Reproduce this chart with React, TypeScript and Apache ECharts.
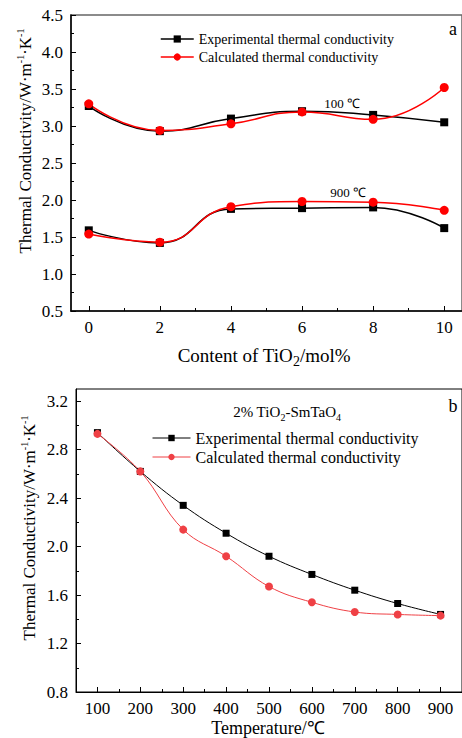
import React, { useEffect, useRef } from "react";
import * as echarts from "echarts";

const contentTicks = [0, 2, 4, 6, 8, 10];
const contentMinor = [1, 3, 5, 7, 9];
const exp100 = [3.27, 2.93, 3.1, 3.2, 3.15, 3.05];
const cal100 = [3.3, 2.94, 3.03, 3.19, 3.09, 3.52];
const exp900 = [1.59, 1.42, 1.88, 1.89, 1.9, 1.62];
const cal900 = [1.54, 1.43, 1.91, 1.98, 1.97, 1.86];

const temps = [100, 200, 300, 400, 500, 600, 700, 800, 900];
const tempMinor = [150, 250, 350, 450, 550, 650, 750, 850];
const expB = [2.94, 2.62, 2.34, 2.11, 1.92, 1.77, 1.64, 1.53, 1.44];
const calB = [2.93, 2.62, 2.14, 1.92, 1.67, 1.54, 1.46, 1.44, 1.43];
const yTicksB = [0.8, 1.2, 1.6, 2.0, 2.4, 2.8, 3.2];
const yMinorB = [1.0, 1.4, 1.8, 2.2, 2.6, 3.0];

const EXP = "Experimental thermal conductivity";
const CAL = "Calculated thermal conductivity";
const FONT = "Liberation Serif, Times New Roman, serif";
const RED_A = "#ff0000";
const RED_B = "#ef4045";

const zip = (xs: number[], ys: number[]) => xs.map((x, i) => [x, ys[i]]);

export default function App() {
  const ref = useRef<HTMLDivElement>(null);
  useEffect(() => {
    if (!ref.current) return;
    const chart = echarts.init(ref.current, undefined, { renderer: "svg" });
    const lbl = { color: "#000", fontFamily: FONT, fontSize: 17, margin: 8 };
    const majorX = (gridIndex: number, min: number, max: number, vals: number[], lw: number) => ({
      type: "value", gridIndex, min, max, position: "bottom",
      axisLine: { show: true, onZero: false, lineStyle: { color: "#000", width: lw } },
      axisTick: { show: true, inside: true, length: 5, customValues: vals, lineStyle: { color: "#000", width: 1 } },
      axisLabel: { ...lbl, customValues: vals },
      splitLine: { show: false },
    });
    const minorX = (gridIndex: number, min: number, max: number, vals: number[]) => ({
      type: "value", gridIndex, min, max, position: "bottom",
      axisLine: { show: false, onZero: false },
      axisTick: { show: true, inside: true, length: 3, customValues: vals, lineStyle: { color: "#000", width: 1 } },
      axisLabel: { show: false },
      splitLine: { show: false },
    });
    const sup = { fontSize: 10, verticalAlign: "top", lineHeight: 10, fontFamily: FONT, fill: "#000", color: "#000" };
    const nrm = (fs: number, extra = 3) => ({ fontSize: fs, lineHeight: fs + extra, fontFamily: FONT, fill: "#000", color: "#000" });
    const sub = (fs: number) => ({ fontSize: fs - 5, verticalAlign: "bottom", lineHeight: fs - 5, fontFamily: FONT, fill: "#000", color: "#000" });
    const yTitle = "{n|Thermal Conductivity/W·m}{s|-1}{n|·K}{s|-1}";
    const txt = (x: number, y: number, text: string, fontSize: number) => ({
      type: "text", x, y,
      style: { text, x: 0, y: 0, fontSize, fontFamily: FONT, fill: "#000", align: "center", verticalAlign: "middle", textAlign: "center", textVerticalAlign: "middle" },
    });

    const option: any = {
      animation: false,
      textStyle: { fontFamily: FONT },
      grid: [
        { left: 71, top: 15, width: 393, height: 296, show: true, borderColor: "#666", borderWidth: 1.5, backgroundColor: "transparent" },
        { left: 76, top: 389, width: 387, height: 303, show: true, borderColor: "#000", borderWidth: 1, backgroundColor: "transparent" },
      ],
      xAxis: [
        majorX(0, -0.5, 10.5, contentTicks, 1.5),
        minorX(0, -0.5, 10.5, contentMinor),
        majorX(1, 50, 950, temps, 1),
        minorX(1, 50, 950, tempMinor),
      ],
      yAxis: [
        {
          type: "value", gridIndex: 0, min: 0.5, max: 4.5, interval: 0.5, position: "left",
          axisLine: { show: true, onZero: false, lineStyle: { color: "#000", width: 1.5 } },
          axisTick: { show: true, inside: true, length: 5, lineStyle: { color: "#000", width: 1 } },
          minorTick: { show: true, splitNumber: 2, length: 3, lineStyle: { color: "#000", width: 1 } },
          axisLabel: { ...lbl, formatter: (v: number) => v.toFixed(1) },
          splitLine: { show: false },
        },
        {
          type: "value", gridIndex: 1, min: 0.8, max: 3.3, position: "left",
          axisLine: { show: true, onZero: false, lineStyle: { color: "#000", width: 1 } },
          axisTick: { show: true, inside: true, length: 5, customValues: yTicksB, lineStyle: { color: "#000", width: 1 } },
          axisLabel: { ...lbl, customValues: yTicksB, formatter: (v: number) => v.toFixed(1) },
          splitLine: { show: false },
        },
        {
          type: "value", gridIndex: 1, min: 0.8, max: 3.3, position: "left",
          axisLine: { show: false, onZero: false },
          axisTick: { show: true, inside: true, length: 3, customValues: yMinorB, lineStyle: { color: "#000", width: 1 } },
          axisLabel: { show: false },
          splitLine: { show: false },
        },
      ],
      legend: [
        {
          left: 160, top: 32, padding: 0, orient: "vertical", itemWidth: 33, itemHeight: 9, itemGap: 4,
          textStyle: { fontFamily: FONT, fontSize: 14, color: "#000", lineHeight: 14 },
          data: [
            { name: EXP, itemStyle: { color: "#000" }, lineStyle: { color: "#000", width: 1.5 } },
            { name: CAL, itemStyle: { color: RED_A }, lineStyle: { color: RED_A, width: 1.5 } },
          ],
        },
        {
          left: 152, top: 430, padding: 0, orient: "vertical", itemWidth: 38, itemHeight: 8, itemGap: 3,
          textStyle: { fontFamily: FONT, fontSize: 16, color: "#000", lineHeight: 16 },
          data: [
            { name: EXP, itemStyle: { color: "#000" }, lineStyle: { color: "#000", width: 1 } },
            { name: CAL, itemStyle: { color: RED_B }, lineStyle: { color: RED_B, width: 1 } },
          ],
        },
      ],
      series: [
        { name: EXP, type: "line", xAxisIndex: 0, yAxisIndex: 0, data: zip(contentTicks, exp100), smooth: 0.5, symbol: "rect", symbolSize: 8, itemStyle: { color: "#000" }, lineStyle: { color: "#000", width: 1.5 } },
        { name: EXP, type: "line", xAxisIndex: 0, yAxisIndex: 0, data: zip(contentTicks, exp900), smooth: 0.5, symbol: "rect", symbolSize: 8, itemStyle: { color: "#000" }, lineStyle: { color: "#000", width: 1.5 } },
        { name: CAL, type: "line", xAxisIndex: 0, yAxisIndex: 0, data: zip(contentTicks, cal100), smooth: 0.5, symbol: "circle", symbolSize: 9, itemStyle: { color: RED_A }, lineStyle: { color: RED_A, width: 1.5 } },
        { name: CAL, type: "line", xAxisIndex: 0, yAxisIndex: 0, data: zip(contentTicks, cal900), smooth: 0.5, symbol: "circle", symbolSize: 9, itemStyle: { color: RED_A }, lineStyle: { color: RED_A, width: 1.5 } },
        { name: EXP, type: "line", xAxisIndex: 2, yAxisIndex: 1, data: zip(temps, expB), smooth: 0.4, symbol: "rect", symbolSize: 7, itemStyle: { color: "#000" }, lineStyle: { color: "#000", width: 1 } },
        { name: CAL, type: "line", xAxisIndex: 2, yAxisIndex: 1, data: zip(temps, calB), smooth: 0.4, symbol: "circle", symbolSize: 8, itemStyle: { color: RED_B }, lineStyle: { color: RED_B, width: 1 } },
      ],
      graphic: [
        { type: "text", x: 25, y: 141, rotation: Math.PI / 2, style: { text: yTitle, x: 0, y: 0, align: "center", verticalAlign: "middle", textAlign: "center", textVerticalAlign: "middle", rich: { n: nrm(17), s: sup } } },
        { type: "text", x: 29, y: 528, rotation: Math.PI / 2, style: { text: yTitle, x: 0, y: 0, align: "center", verticalAlign: "middle", textAlign: "center", textVerticalAlign: "middle", rich: { n: nrm(17), s: sup } } },
        { type: "text", x: 264, y: 355, style: { text: "{n|Content of TiO}{b|2}{n|/mol%}", x: 0, y: 0, align: "center", verticalAlign: "middle", textAlign: "center", textVerticalAlign: "middle", rich: { n: nrm(19, 7), b: sub(19) } } },
        txt(268, 728, "Temperature/℃", 18),
        txt(342, 103, "100 ℃", 13),
        txt(348, 192, "900 ℃", 13),
        txt(453, 29, "a", 18),
        txt(453, 406, "b", 18),
        { type: "text", x: 287, y: 412, style: { text: "{n|2% TiO}{b|2}{n|-SmTaO}{b|4}", x: 0, y: 0, align: "center", verticalAlign: "middle", textAlign: "center", textVerticalAlign: "middle", rich: { n: nrm(15, 6), b: sub(15) } } },
      ],
    };
    chart.setOption(option);
    return () => chart.dispose();
  }, []);
  return (
    <div style={{ position: "absolute", left: 0, top: 0, width: 462, height: 738, background: "#fff" }}>
      <div ref={ref} style={{ width: 462, height: 738 }} />
    </div>
  );
}
